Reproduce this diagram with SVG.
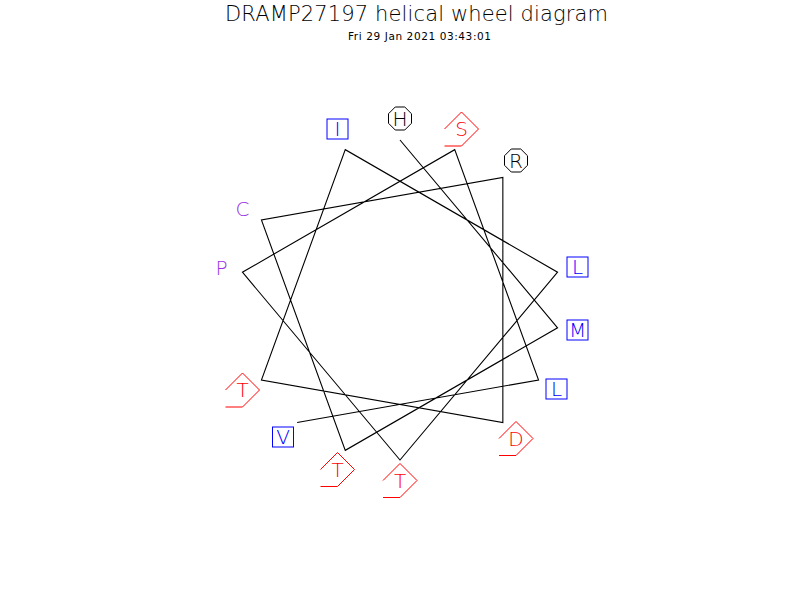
<svg xmlns="http://www.w3.org/2000/svg" xmlns:xlink="http://www.w3.org/1999/xlink" width="800" height="600" viewBox="0 0 800 600">
<style>
text{font-family:"DejaVu Sans","Liberation Sans",sans-serif;font-weight:200;text-anchor:middle}
.title{font-size:21px;fill:#000}
.sub{font-size:10.5px;fill:#000;font-weight:400}
.lbl{font-size:20px}
.hyd{fill:none;stroke:#0000ff;stroke-width:1}
.pos{fill:none;stroke:#000;stroke-width:1}
.pol{fill:none;stroke:#ff0000;stroke-width:1}
.tb{fill:#0000ff}
.tk{fill:#000}
.tr{fill:#ff0000}
.tp{fill:#9933e6}
.wheel{fill:none;stroke:#000;stroke-width:1.1;stroke-linejoin:miter}
</style>
<defs>
<rect id="box" x="-10.5" y="-10" width="21" height="20" class="hyd"/>
<polygon id="oct" points="-4.76,-11.5 4.76,-11.5 11.5,-4.76 11.5,4.76 4.76,11.5 -4.76,11.5 -11.5,4.76 -11.5,-4.76" class="pos"/>
<polyline id="pent" points="-17,0 0,-17 17,0 0,17 -17,17" class="pol"/>
</defs>
<rect width="800" height="600" fill="#fff"/>
<text class="title" x="416.5" y="20.5" textLength="383" lengthAdjust="spacing">DRAMP27197 helical wheel diagram</text>
<text class="sub" x="419.5" y="40" textLength="143" lengthAdjust="spacing">Fri 29 Jan 2021 03:43:01</text>
<g id="connectors">
<polyline class="wheel" points="400,140 557.57,327.78 345.28,450.35 261.44,220 502.85,177.43 502.85,422.57 261.44,380 345.28,149.65 557.57,272.22 400,460 242.43,272.22 454.72,149.65 538.56,380 297.15,422.57"/>
</g>
<g id="n1-H" transform="translate(400,118.5)"><use xlink:href="#oct"/><text class="lbl tk" x="0" y="7.3">H</text></g>
<g id="n2-M" transform="translate(577.5,330)"><use xlink:href="#box"/><text class="lbl tb" x="0" y="7.3">M</text></g>
<g id="n3-T" transform="translate(337.5,469.5)"><use xlink:href="#pent"/><text class="lbl tr" x="0" y="7.3">T</text></g>
<g id="n4-C" transform="translate(242.5,208.5)"><text class="lbl tp" x="0" y="7.3">C</text></g>
<g id="n5-R" transform="translate(516,160.5)"><use xlink:href="#oct"/><text class="lbl tk" x="0" y="7.3">R</text></g>
<g id="n6-D" transform="translate(516,438.5)"><use xlink:href="#pent"/><text class="lbl tr" x="0" y="7.3">D</text></g>
<g id="n7-T" transform="translate(242.5,390)"><use xlink:href="#pent"/><text class="lbl tr" x="0" y="7.3">T</text></g>
<g id="n8-I" transform="translate(337.5,129)"><use xlink:href="#box"/><text class="lbl tb" x="0" y="7.3">I</text></g>
<g id="n9-L" transform="translate(577.5,267)"><use xlink:href="#box"/><text class="lbl tb" x="0" y="7.3">L</text></g>
<g id="n10-T" transform="translate(400,480.5)"><use xlink:href="#pent"/><text class="lbl tr" x="0" y="7.3">T</text></g>
<g id="n11-P" transform="translate(221.5,268)"><text class="lbl tp" x="0" y="7.3">P</text></g>
<g id="n12-S" transform="translate(461.5,129)"><use xlink:href="#pent"/><text class="lbl tr" x="0" y="7.3">S</text></g>
<g id="n13-L" transform="translate(556.5,389)"><use xlink:href="#box"/><text class="lbl tb" x="0" y="7.3">L</text></g>
<g id="n14-V" transform="translate(283,437)"><use xlink:href="#box"/><text class="lbl tb" x="0" y="7.3">V</text></g>
</svg>
